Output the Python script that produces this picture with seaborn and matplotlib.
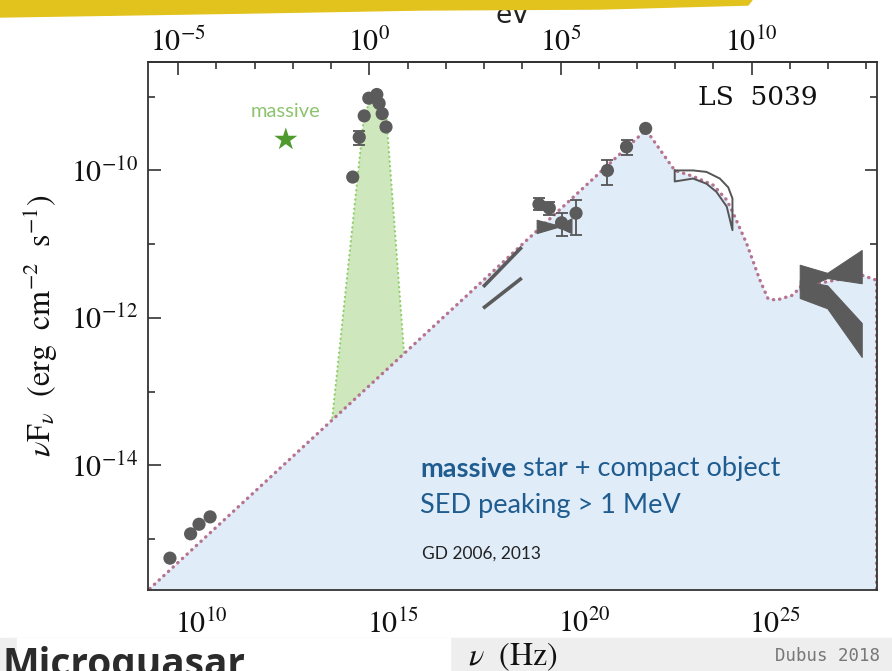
import numpy as np
import pandas as pd
import matplotlib
matplotlib.use("Agg")
import matplotlib.pyplot as plt
import matplotlib.transforms as mtransforms
import seaborn as sns
from matplotlib.ticker import FixedLocator, FuncFormatter, NullFormatter
from matplotlib.patches import Polygon, Rectangle

H_EV = 4.135667e-15  # Planck constant, eV s

# ---- SED of LS 5039: log10(nu / Hz) and log10(nuFnu / erg cm^-2 s^-1) ----
# emission model (dotted curve, blue area)
model_lognu = [8.40, 21.62, 22.37, 22.85, 23.38, 23.73, 23.90, 24.25, 24.60,
               24.81, 25.03, 25.47, 25.65, 27.26, 27.65, 27.65]
model_logf = [-15.79, -9.45, -10.00, -10.08, -10.20, -10.40, -10.58, -10.99,
              -11.49, -11.74, -11.76, -11.69, -11.58, -11.42, -11.49, -16.5]

# massive star photosphere (green area)
star_lognu = [12.88, 13.43, 14.24, 14.40, 14.61, 14.82, 15.29, 15.80]
star_logf = [-16.0, -13.28, -9.29, -9.05, -8.99, -9.21, -12.46, -16.0]

# radio fluxes
radio_lognu = [9.17, 9.71, 9.93, 10.22]
radio_logf = [-15.26, -14.93, -14.80, -14.70]

# optical / infrared photometry
opt_lognu = [13.95, 14.12, 14.25, 14.37, 14.58, 14.64, 14.72, 14.82]
opt_logf = [-10.09, -9.55, -9.26, -9.02, -8.97, -9.09, -9.23, -9.41]
opt_err_lo = [-10.09, -9.66, -9.26, -9.02, -8.97, -9.09, -9.23, -9.41]
opt_err_hi = [-10.09, -9.47, -9.26, -9.02, -8.97, -9.09, -9.23, -9.41]

# hard X-ray / soft gamma-ray points with error bars
xr_lognu = [18.82, 19.09, 19.41, 19.79, 20.61, 21.11, 21.61]
xr_logf = [-10.46, -10.51, -10.71, -10.58, -10.00, -9.68, -9.43]
xr_err_lo = [-10.54, -10.61, -10.89, -10.88, -10.20, -9.79, -9.43]
xr_err_hi = [-10.37, -10.43, -10.58, -10.40, -9.86, -9.59, -9.43]

# X-ray power-law spectra (two states)
xpl_lognu = [17.36, 18.37]
xpl_high_logf = [-11.58, -11.04]
xpl_low_logf = [-11.87, -11.46]

# X-ray bowtie
xbt_lognu = [18.76, 19.32, 19.67]
xbt_top = [-10.67, -10.745, -10.65]
xbt_bot = [-10.85, -10.765, -10.85]

# GeV band (outline)
gev_up_lognu = [22.37, 22.85, 23.20, 23.55, 23.77, 23.88]
gev_up_logf = [-10.00, -10.00, -10.02, -10.11, -10.23, -10.38]
gev_lo_lognu = [22.37, 22.85, 23.20, 23.46, 23.73, 23.88]
gev_lo_logf = [-10.15, -10.11, -10.18, -10.29, -10.49, -10.81]

# TeV bowties (two orbital phases)
tev_lognu = [25.64, 26.36, 27.26]
tev_a_top = [-11.28, -11.39, -11.08]
tev_a_bot = [-11.62, -11.46, -11.53]
tev_b_top = [-11.49, -11.56, -12.07]
tev_b_bot = [-11.73, -11.87, -12.53]

# companion star marker
star_mark_lognu = [12.20]
star_mark_logf = [-9.58]

XLIM_LOG = (8.596, 27.66)
YLIM_LOG = (-15.692, -8.529)


def lin(a):
    return 10.0 ** np.asarray(a, dtype=float)


sns.set_style("ticks")
plt.rcParams["mathtext.fontset"] = "stix"
plt.rcParams["font.family"] = ["STIXGeneral", "DejaVu Sans"]

W, H = 892, 671
fig = plt.figure(figsize=(W / 100, H / 100), dpi=100)
fig.patch.set_facecolor("white")
ax = fig.add_axes([148 / W, 1 - 590 / H, 729 / W, 528 / H])
ax.set_xscale("log")
ax.set_yscale("log")
ax.set_facecolor("white")

GRAY = "#5b5b5b"
FLOOR = 1e-20

# stellar component
ax.fill_between(lin(star_lognu), lin(star_logf), FLOOR, color="#cfe7bd", lw=0, zorder=1)
ax.plot(lin(star_lognu), lin(star_logf), color="#8dcf68", lw=1.6,
        ls=(0, (0.1, 2.0)), dash_capstyle="round", zorder=1.1)

# non-thermal model
model = pd.DataFrame({"nu": lin(model_lognu), "flux": lin(model_logf)})
ax.fill_between(model["nu"], model["flux"], FLOOR, color="#e1ecf9", lw=0, zorder=1.5)
ax.plot(model["nu"], model["flux"], color="#b5738f", lw=2.4,
        ls=(0, (0.1, 1.8)), dash_capstyle="round", zorder=3)

# X-ray power laws and bowtie
ax.plot(lin(xpl_lognu), lin(xpl_high_logf), color=GRAY, lw=2.6, solid_capstyle="butt", zorder=4)
ax.plot(lin(xpl_lognu), lin(xpl_low_logf), color=GRAY, lw=2.6, solid_capstyle="butt", zorder=4)
ax.fill_between(lin(xbt_lognu), lin(xbt_bot), lin(xbt_top), color=GRAY, lw=0.8, zorder=4)

# GeV band outline
gev_x = np.concatenate([gev_up_lognu, gev_lo_lognu[::-1], gev_up_lognu[:1]])
gev_y = np.concatenate([gev_up_logf, gev_lo_logf[::-1], gev_up_logf[:1]])
ax.plot(lin(gev_x), lin(gev_y), color="#555555", lw=1.4, zorder=4)

# TeV bowties
ax.fill_between(lin(tev_lognu), lin(tev_a_bot), lin(tev_a_top), color=GRAY, lw=0.8, zorder=4)
ax.fill_between(lin(tev_lognu), lin(tev_b_bot), lin(tev_b_top), color=GRAY, lw=0.8, zorder=4)

# error bars
for xs, ys, lo, hi in [(xr_lognu, xr_logf, xr_err_lo, xr_err_hi),
                       (opt_lognu, opt_logf, opt_err_lo, opt_err_hi)]:
    yv = lin(ys)
    ax.errorbar(lin(xs), yv, yerr=[yv - lin(lo), lin(hi) - yv], fmt="none",
                ecolor="#555555", elinewidth=1.3, capsize=4.5, capthick=1.3, zorder=4.5)

# measured points
pts = pd.DataFrame({
    "nu": lin(radio_lognu + opt_lognu + xr_lognu),
    "flux": lin(radio_logf + opt_logf + xr_logf),
})
sns.scatterplot(data=pts, x="nu", y="flux", color=GRAY, s=90, edgecolor="none",
                zorder=5, ax=ax, legend=False)

star_df = pd.DataFrame({"nu": lin(star_mark_lognu), "flux": lin(star_mark_logf)})
sns.scatterplot(data=star_df, x="nu", y="flux", marker="*", color="#4e9a2c", s=300,
                edgecolor="none", zorder=5, ax=ax, legend=False)

# limits are fixed once every artist is in place
ax.set_xlim(lin(XLIM_LOG[0]), lin(XLIM_LOG[1]))
ax.set_ylim(lin(YLIM_LOG[0]), lin(YLIM_LOG[1]))

# axes, ticks
fmt = FuncFormatter(lambda v, pos: r"$10^{%d}$" % int(round(np.log10(v))))
ax.xaxis.set_major_locator(FixedLocator(lin([10, 15, 20, 25])))
ax.xaxis.set_minor_locator(FixedLocator(lin(np.arange(8, 28))))
ax.xaxis.set_major_formatter(fmt)
ax.xaxis.set_minor_formatter(NullFormatter())
ax.yaxis.set_major_locator(FixedLocator(lin([-14, -12, -10])))
ax.yaxis.set_minor_locator(FixedLocator(lin(np.arange(-16, -7))))
ax.yaxis.set_major_formatter(fmt)
ax.yaxis.set_minor_formatter(NullFormatter())

ax.tick_params(which="both", direction="in", top=False, right=True,
               color="#333333", width=1.2, labelsize=21.5, labelcolor="#111111")
ax.tick_params(which="major", length=9)
ax.tick_params(which="minor", length=5)
ax.tick_params(axis="x", pad=15)
ax.tick_params(axis="y", pad=7)
for s in ax.spines.values():
    s.set_color("#333333")
    s.set_linewidth(1.3)
    s.set_zorder(6)

sec = ax.secondary_xaxis("top", functions=(lambda nu: nu * H_EV, lambda e: e / H_EV))
sec.xaxis.set_major_locator(FixedLocator(lin([-5, 0, 5, 10])))
sec.xaxis.set_minor_locator(FixedLocator(lin(np.arange(-7, 14))))
sec.xaxis.set_major_formatter(fmt)
sec.xaxis.set_minor_formatter(NullFormatter())
sec.tick_params(which="both", direction="in", color="#333333", width=1.2,
                labelsize=21.5, labelcolor="#111111", pad=3)
sec.tick_params(which="major", length=9)
sec.tick_params(which="minor", length=5)
sec.spines["top"].set_color("#333333")
sec.spines["top"].set_linewidth(1.3)
sec.set_xlabel("eV", fontsize=19, family="DejaVu Sans", labelpad=4, color="#222222")

ax.set_xlabel(r"$\nu\ \ (\mathrm{Hz})$", fontsize=23, labelpad=0, color="#111111")
ax.set_ylabel(r"$\nu\mathrm{F}_{\nu}\ \ (\mathrm{erg\ \ cm^{-2}\ \ s^{-1}})$",
              fontsize=23, labelpad=8, color="#111111")

# annotations
ax.text(0.837, 0.932, "LS  5039", transform=ax.transAxes, family="DejaVu Serif",
        fontsize=19, ha="center", va="center", color="#111111", zorder=7)
ax.text(0.189, 0.907, "massive", transform=ax.transAxes, family="Lato",
        fontsize=14.5, ha="center", va="center", color="#8cc46e", zorder=7)

blue = "#1f5c8f"
t1 = ax.text(0.373, 0.214, "massive", transform=ax.transAxes, family="Lato",
             weight="bold", fontsize=19.5, color=blue, va="baseline", ha="left", zorder=7)
ax.annotate(" star + compact object", xy=(1, 0), xycoords=t1, family="Lato",
            fontsize=19.5, color=blue, va="bottom", ha="left", zorder=7)
ax.text(0.373, 0.146, "SED peaking > 1 MeV", transform=ax.transAxes, family="Lato",
        fontsize=19.5, color=blue, va="baseline", ha="left", zorder=7)
ax.text(0.376, 0.059, "GD 2006, 2013", transform=ax.transAxes, family="Lato",
        fontsize=12.5, color="#222222", va="baseline", ha="left", zorder=7)

# page decorations around the chart
px = mtransforms.Affine2D().scale(1 / W, -1 / H).translate(0, 1) + fig.transFigure
fig.patches.append(Rectangle((0, 638), W, H - 638, transform=px, color="#eeeeee", zorder=-2))
fig.patches.append(Rectangle((17, 638), 433, H - 638, transform=px, color="white", zorder=-1))
banner = Polygon([[0, 0], [752, 0], [748, 5], [600, 9], [420, 10], [250, 13], [0, 17]],
                 closed=True, transform=px, color="#e2c21c", zorder=10)
fig.patches.append(banner)
fig.text(2 / W, 1 - 646 / H, "Microquasar", va="top", ha="left", fontsize=28,
         weight="bold", family="Open Sans", color="#2b2b2b")
fig.text(880 / W, 1 - 656 / H, "Dubus 2018", va="center", ha="right", fontsize=12.5,
         family="DejaVu Sans Mono", color="#777777")

fig.savefig("out.png", dpi=100)
